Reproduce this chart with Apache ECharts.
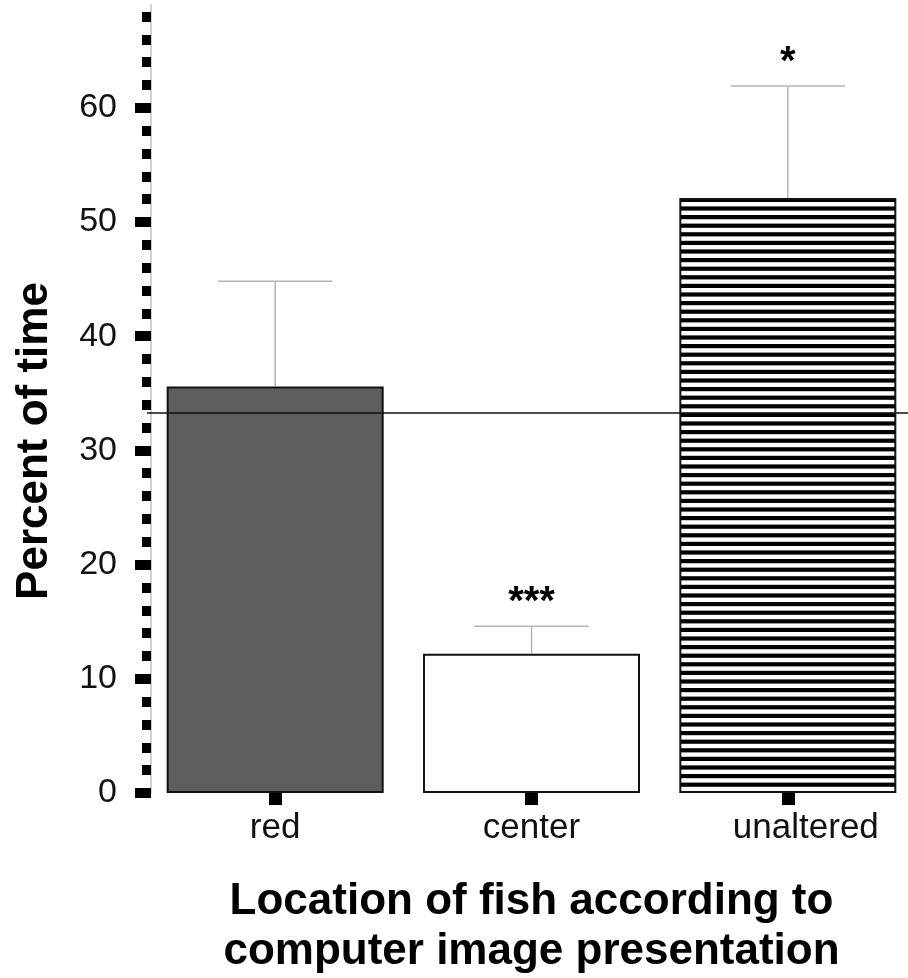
<!DOCTYPE html>
<html><head><meta charset="utf-8">
<script src="https://cdn.jsdelivr.net/npm/echarts@6/dist/echarts.min.js"></script>
<style>html,body{margin:0;padding:0;background:#fff}#c{width:908px;height:978px}</style>
</head><body><div id="c"></div>
<script>
const categories = ['red', 'center', 'unaltered'];
const meanValues = [35.6, 12.2, 52.1];
const upperErrorValues = [44.8, 14.6, 61.9];
const significance = ['', '***', '*'];
const chanceLevel = 33.3;
const yTickLabels = [0, 10, 20, 30, 40, 50, 60];
const yMinorTicks = [2,4,6,8,12,14,16,18,22,24,26,28,32,34,36,38,42,44,46,48,52,54,56,58,62,64,66,68];
const yMax = 69;

const FONT = 'Liberation Sans, Arial, sans-serif';

function stripePattern() {
  const c = document.createElement('canvas');
  c.width = 8; c.height = 43;
  const g = c.getContext('2d');
  g.fillStyle = '#fff'; g.fillRect(0, 0, 8, 43);
  g.fillStyle = '#000';
  for (let i = 0; i < 5; i++) g.fillRect(0, i * 8.6, 8, 4.2);
  return c;
}
const barFills = ['#5e5e5e', '#ffffff', { image: stripePattern(), repeat: 'repeat' }];

const chart = echarts.init(document.getElementById('c'), null, { renderer: 'canvas' });
chart.setOption({
  animation: false,
  backgroundColor: '#fff',
  textStyle: { fontFamily: FONT },
  grid: { left: 147, right: -8, top: 5, bottom: 185, containLabel: false, outerBoundsMode: 'none' },
  xAxis: {
    type: 'category',
    data: categories,
    boundaryGap: true,
    axisLine: { show: false },
    axisTick: { show: true, alignWithLabel: true, length: 12, lineStyle: { color: '#000', width: 13 } },
    axisLabel: {
      fontSize: 35, color: '#111', margin: 18, fontFamily: FONT,
      formatter: function (v, i) { return i === 2 ? '{s|' + v + '}' : v; },
      rich: { s: { fontSize: 35, color: '#111', fontFamily: FONT, padding: [0, 0, 0, 36] } }
    },
    name: 'Location of fish according to\ncomputer image presentation',
    nameLocation: 'middle',
    nameGap: 84,
    nameTextStyle: { fontSize: 44, fontWeight: 'bold', color: '#000', lineHeight: 50, fontFamily: FONT }
  },
  yAxis: [
    {
      type: 'value', position: 'left', offset: -4, min: 0, max: yMax, interval: 10,
      axisLine: { show: true, lineStyle: { color: '#d0d0d0', width: 2 } },
      axisTick: { show: true, length: 16, lineStyle: { color: '#000', width: 10 }, customValues: yTickLabels },
      axisLabel: { fontSize: 34, color: '#111', margin: 34, fontFamily: FONT, customValues: yTickLabels },
      splitLine: { show: false }
    },
    {
      type: 'value', position: 'left', offset: -4, min: 0, max: yMax, interval: 2,
      axisLine: { show: false },
      axisTick: { show: true, length: 9, lineStyle: { color: '#000', width: 10 }, customValues: yMinorTicks },
      axisLabel: { show: false },
      splitLine: { show: false }
    }
  ],
  graphic: [{
    type: 'text', x: 35, y: 441, rotation: Math.PI / 2,
    style: { text: 'Percent of time', fontSize: 44, fontWeight: 'bold', fontFamily: FONT, fill: '#000', align: 'center', verticalAlign: 'middle' }
  }],
  series: [
    {
      type: 'custom',
      z: 1,
      data: categories.map((c, i) => [i, meanValues[i], upperErrorValues[i]]),
      renderItem: function (params, api) {
        const x = api.value(0);
        const base = api.coord([x, api.value(1)]);
        const top = api.coord([x, api.value(2)]);
        const half = api.size([1, 0])[0] * 0.223;
        const st = { stroke: '#b5b5b5', lineWidth: 1.5 };
        return {
          type: 'group',
          children: [
            { type: 'line', shape: { x1: base[0], y1: base[1], x2: top[0], y2: top[1] }, style: st },
            { type: 'line', shape: { x1: top[0] - half, y1: top[1], x2: top[0] + half, y2: top[1] }, style: st },
            { type: 'text', x: top[0], y: top[1] - 3,
              style: { text: significance[params.dataIndex], fontSize: 40, fontWeight: 'bold', fontFamily: FONT, fill: '#000', align: 'center', verticalAlign: 'bottom' } }
          ]
        };
      }
    },
    {
      type: 'bar',
      z: 2,
      barWidth: 217,
      data: meanValues.map((v, i) => ({ value: v, itemStyle: { color: barFills[i] } })),
      itemStyle: { borderColor: '#111', borderWidth: 2 },
      markLine: {
        silent: true,
        symbol: 'none',
        label: { show: false },
        lineStyle: { color: '#111', width: 1.5, type: 'solid' },
        data: [{ yAxis: chanceLevel }]
      }
    }
  ]
});
</script>
</body></html>
